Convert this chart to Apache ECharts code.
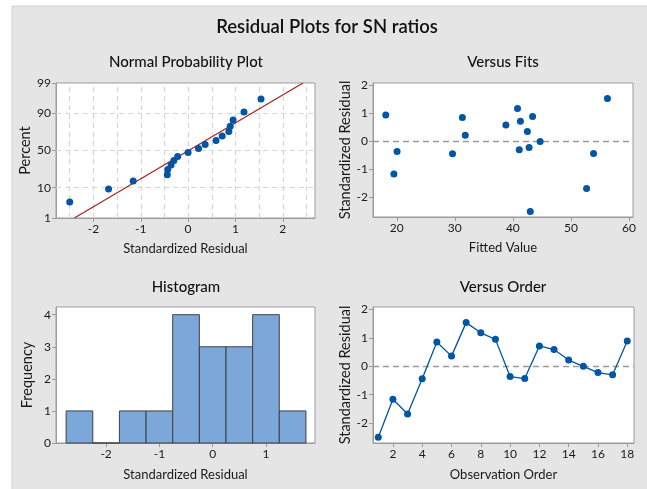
<!DOCTYPE html>
<html>
<head>
<meta charset="utf-8">
<script src="https://cdn.jsdelivr.net/npm/echarts@6/dist/echarts.min.js"></script>
<style>
  html, body { margin: 0; padding: 0; background: #ffffff; }
  #chart { width: 647px; height: 489px; }
</style>
</head>
<body>
<div id="chart"></div>
<script>
// Standardized residuals, in observation order
const residuals = [-2.50, -1.16, -1.68, -0.44, 0.86, 0.36, 1.54, 1.18, 0.95,
                   -0.36, -0.43, 0.72, 0.59, 0.22, 0.00, -0.22, -0.30, 0.89];
// Fitted SN ratio of each observation
const fittedValues = [43.0, 19.5, 52.7, 29.6, 31.3, 42.5, 56.3, 40.8, 18.1,
                      20.05, 53.9, 41.3, 38.8, 31.8, 44.7, 42.8, 41.1, 43.4];
const observationOrder = [1, 2, 3, 4, 5, 6, 7, 8, 9, 10, 11, 12, 13, 14, 15, 16, 17, 18];
// Median-rank plotting positions (%) of the sorted residuals
const plotPercents = [3.8, 9.2, 14.7, 20.1, 25.5, 31.0, 36.4, 41.8, 47.3,
                      52.7, 58.2, 63.6, 69.0, 74.5, 79.9, 85.3, 90.8, 96.2];
// Histogram bins
const binStarts = [-2.75, -2.25, -1.75, -1.25, -0.75, -0.25, 0.25, 0.75, 1.25];
const binEnds   = [-2.25, -1.75, -1.25, -0.75, -0.25, 0.25, 0.75, 1.25, 1.75];
const binCounts = [1, 0, 1, 1, 4, 3, 3, 4, 1];

// Tick labels
const percentTicks = [1, 10, 50, 90, 99];
const percentGrid = [10, 50, 90];
const probXTicks = [-2, -1, 0, 1, 2];
const probXGrid = [-2.5, -2, -1.5, -1, -0.5, 0, 0.5, 1, 1.5, 2, 2.5];
const histXTicks = [-2, -1, 0, 1];
const histYTicks = [0, 1, 2, 3, 4];
const residTicks = [-2, -1, 0, 1, 2];
const fitTicks = [20, 30, 40, 50, 60];
const orderTicks = [2, 4, 6, 8, 10, 12, 14, 16, 18];

// Inverse standard normal CDF (Acklam) used for the probability scale
function probit(p) {
  const a = [-3.969683028665376e+01, 2.209460984245205e+02, -2.759285104469687e+02,
             1.383577518672690e+02, -3.066479806614716e+01, 2.506628277459239e+00];
  const b = [-5.447609879822406e+01, 1.615858368580409e+02, -1.556989798598866e+02,
             6.680131188771972e+01, -1.328068155288572e+01];
  const c = [-7.784894002430293e-03, -3.223964580411365e-01, -2.400758277161838e+00,
             -2.549732539343734e+00, 4.374664141464968e+00, 2.938163982698783e+00];
  const d = [7.784695709041462e-03, 3.224671290700398e-01, 2.445134137142996e+00,
             3.754408661907416e+00];
  const pl = 0.02425;
  if (p < pl) {
    const q = Math.sqrt(-2 * Math.log(p));
    return (((((c[0]*q+c[1])*q+c[2])*q+c[3])*q+c[4])*q+c[5]) / ((((d[0]*q+d[1])*q+d[2])*q+d[3])*q+1);
  }
  if (p > 1 - pl) {
    const q = Math.sqrt(-2 * Math.log(1 - p));
    return -(((((c[0]*q+c[1])*q+c[2])*q+c[3])*q+c[4])*q+c[5]) / ((((d[0]*q+d[1])*q+d[2])*q+d[3])*q+1);
  }
  const q = p - 0.5, r = q * q;
  return (((((a[0]*r+a[1])*r+a[2])*r+a[3])*r+a[4])*r+a[5])*q /
         (((((b[0]*r+b[1])*r+b[2])*r+b[3])*r+b[4])*r+1);
}
const zOf = pct => probit(pct / 100);

// Normal probability plot data and reference line (mean, sd of residuals)
const sortedResiduals = residuals.slice().sort((x, y) => x - y);
const n = residuals.length;
const mean = residuals.reduce((s, v) => s + v, 0) / n;
const sd = Math.sqrt(residuals.reduce((s, v) => s + (v - mean) * (v - mean), 0) / (n - 1));
const zLow = zOf(percentTicks[0]), zHigh = zOf(percentTicks[percentTicks.length - 1]);

const FONT = 'Lato, "Noto Sans", sans-serif';
const TXT = '#1a1a1a';
const FRAME = '#9c9c9c';
const BLUE = '#0055a5';

function axis(gridIndex, min, max, ticks, name, nameGap, isY, formatter) {
  return {
    type: 'value', gridIndex, min, max,
    name, nameLocation: 'middle', nameGap,
    nameTextStyle: { fontFamily: FONT, fontSize: isY ? 14.5 : 13, color: TXT },
    axisLine: { show: true, onZero: false, lineStyle: { color: FRAME, width: 1 } },
    axisTick: { show: true, inside: false, length: 4, customValues: ticks,
                lineStyle: { color: FRAME, width: 1 } },
    axisLabel: { show: true, customValues: ticks, margin: 5, fontFamily: FONT,
                 fontSize: 12, color: TXT, formatter: formatter || (v => String(v)) },
    splitLine: { show: false }
  };
}

const gridStyle = { show: true, backgroundColor: '#ffffff', borderColor: FRAME, borderWidth: 1 };

const zeroLine = {
  silent: true, z: 2, symbol: ['none', 'none'], label: { show: false },
  lineStyle: { type: [6, 4], color: '#9a9a9a', width: 1.4 },
  data: [{ yAxis: 0 }]
};

const percentZ = percentTicks.map(zOf);
const percentLabel = v => {
  const i = percentZ.findIndex(z => Math.abs(z - v) < 1e-6);
  return i >= 0 ? String(percentTicks[i]) : '';
};

const chart = echarts.init(document.getElementById('chart'), null, { renderer: 'canvas' });

const option = {
  animation: false,
  backgroundColor: '#ffffff',
  graphic: [
    { type: 'rect', z: -100, shape: { x: 12, y: 6, width: 640, height: 490 },
      style: { fill: '#e5e5e5', stroke: '#d2d2d2', lineWidth: 1 } },
    { type: 'text', x: 327, y: 27, z: 10,
      style: { text: 'Residual Plots for SN ratios', textAlign: 'center', textVerticalAlign: 'middle',
               fontFamily: FONT, fontSize: 18.5, fontWeight: 600, fill: '#111' } },
    { type: 'text', x: 186, y: 62, z: 10,
      style: { text: 'Normal Probability Plot', textAlign: 'center', textVerticalAlign: 'middle',
               fontFamily: FONT, fontSize: 15, fontWeight: 500, fill: '#111' } },
    { type: 'text', x: 503, y: 62, z: 10,
      style: { text: 'Versus Fits', textAlign: 'center', textVerticalAlign: 'middle',
               fontFamily: FONT, fontSize: 15, fontWeight: 500, fill: '#111' } },
    { type: 'text', x: 186, y: 287, z: 10,
      style: { text: 'Histogram', textAlign: 'center', textVerticalAlign: 'middle',
               fontFamily: FONT, fontSize: 15, fontWeight: 500, fill: '#111' } },
    { type: 'text', x: 503, y: 287, z: 10,
      style: { text: 'Versus Order', textAlign: 'center', textVerticalAlign: 'middle',
               fontFamily: FONT, fontSize: 15, fontWeight: 500, fill: '#111' } }
  ],
  grid: [
    Object.assign({ left: 56, top: 83, width: 259, height: 135 }, gridStyle),
    Object.assign({ left: 373, top: 83, width: 260, height: 134 }, gridStyle),
    Object.assign({ left: 56, top: 307, width: 259, height: 136 }, gridStyle),
    Object.assign({ left: 373, top: 307, width: 261, height: 136 }, gridStyle)
  ],
  xAxis: [
    axis(0, -2.79, 2.68, probXTicks, 'Standardized Residual', 24, false),
    axis(1, 15.9, 60.7, fitTicks, 'Fitted Value', 24, false),
    axis(2, -2.94, 1.92, histXTicks, 'Standardized Residual', 25, false),
    axis(3, 0.64, 18.46, orderTicks, 'Observation Order', 25, false)
  ],
  yAxis: [
    axis(0, zLow, zHigh, percentZ, 'Percent', 21, true, percentLabel),
    axis(1, -2.70, 2.09, residTicks, 'Standardized Residual', 19, true),
    axis(2, 0, 4.24, histYTicks, 'Frequency', 21, true),
    axis(3, -2.70, 2.09, residTicks, 'Standardized Residual', 19, true)
  ],
  series: [
    // Probability plot dashed grid
    {
      type: 'scatter', xAxisIndex: 0, yAxisIndex: 0, data: [], z: 1, silent: true,
      markLine: {
        silent: true, z: 1, symbol: ['none', 'none'], label: { show: false },
        lineStyle: { type: [5, 4], color: '#d6d6d6', width: 1.2 },
        data: probXGrid.map(v => ({ xAxis: v })).concat(percentGrid.map(p => ({ yAxis: zOf(p) })))
      }
    },
    // Fitted normal line
    {
      type: 'line', xAxisIndex: 0, yAxisIndex: 0, z: 3, showSymbol: false, silent: true,
      lineStyle: { color: '#a82424', width: 1.3 },
      data: [[mean + zLow * sd, zLow], [mean + zHigh * sd, zHigh]]
    },
    {
      type: 'scatter', xAxisIndex: 0, yAxisIndex: 0, z: 4, symbolSize: 7,
      itemStyle: { color: BLUE, opacity: 1 },
      data: sortedResiduals.map((r, i) => [r, zOf(plotPercents[i])])
    },
    // Versus fits
    {
      type: 'scatter', xAxisIndex: 1, yAxisIndex: 1, z: 4, symbolSize: 7,
      itemStyle: { color: BLUE, opacity: 1 },
      data: fittedValues.map((f, i) => [f, residuals[i]]),
      markLine: zeroLine
    },
    // Histogram
    {
      type: 'custom', xAxisIndex: 2, yAxisIndex: 2, z: 3,
      data: binStarts.map((s, i) => [s, binEnds[i], binCounts[i]]),
      encode: { x: [0, 1], y: 2 },
      renderItem: function (params, api) {
        const p0 = api.coord([api.value(0), api.value(2)]);
        const p1 = api.coord([api.value(1), 0]);
        return {
          type: 'rect',
          shape: { x: p0[0], y: p0[1], width: p1[0] - p0[0], height: p1[1] - p0[1] },
          style: { fill: '#7ba7d9', stroke: '#404040', lineWidth: 1 }
        };
      }
    },
    // Versus order
    {
      type: 'line', xAxisIndex: 3, yAxisIndex: 3, z: 4, symbol: 'circle', symbolSize: 7,
      showSymbol: true,
      lineStyle: { color: BLUE, width: 1.3 }, itemStyle: { color: BLUE, opacity: 1 },
      data: observationOrder.map((o, i) => [o, residuals[i]]),
      markLine: zeroLine
    }
  ]
};

chart.setOption(option);
</script>
</body>
</html>
